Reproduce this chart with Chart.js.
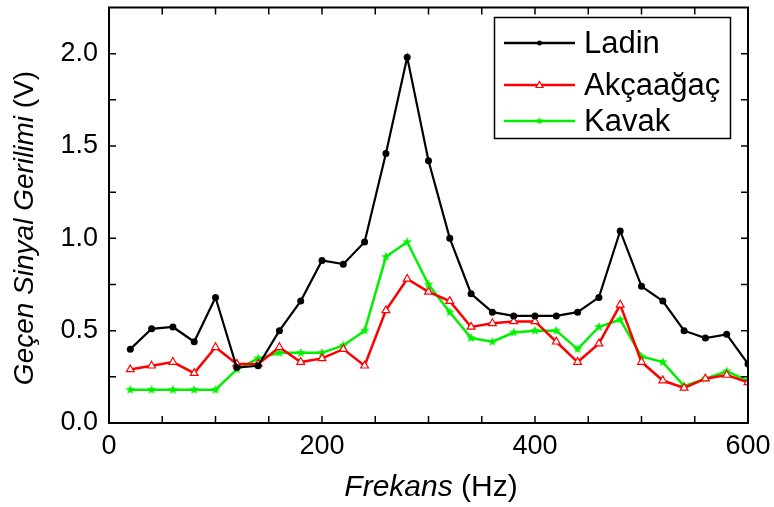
<!DOCTYPE html>
<html>
<head>
<meta charset="utf-8">
<script src="https://cdn.jsdelivr.net/npm/chart.js@4/dist/chart.umd.min.js"></script>
<style>
  html, body { margin: 0; padding: 0; background: #fff; }
</style>
</head>
<body>
<canvas id="chart" width="774" height="507"></canvas>
<script>
// frekans (Hz) ve gecen sinyal gerilimi (V) - okunan degerler
const frekans = [20, 40, 60, 80, 100, 120, 140, 160, 180, 200, 220, 240, 260, 280, 300,
                 320, 340, 360, 380, 400, 420, 440, 460, 480, 500, 520, 540, 560, 580, 600];
const ladin = [0.40, 0.51, 0.52, 0.44, 0.68, 0.30, 0.31, 0.50, 0.66, 0.88, 0.86, 0.98, 1.46, 1.98, 1.42,
               1.00, 0.70, 0.60, 0.58, 0.58, 0.58, 0.60, 0.68, 1.04, 0.74, 0.66, 0.50, 0.46, 0.48, 0.32];
const akcaagac = [0.29, 0.31, 0.33, 0.27, 0.41, 0.32, 0.32, 0.41, 0.33, 0.35, 0.40, 0.31, 0.61, 0.78, 0.71,
                  0.66, 0.52, 0.54, 0.55, 0.55, 0.44, 0.33, 0.43, 0.64, 0.33, 0.23, 0.19, 0.24, 0.26, 0.22];
const kavak = [0.18, 0.18, 0.18, 0.18, 0.18, 0.29, 0.35, 0.38, 0.38, 0.38, 0.42, 0.50, 0.90, 0.98, 0.75,
               0.60, 0.46, 0.44, 0.49, 0.50, 0.50, 0.40, 0.52, 0.56, 0.36, 0.33, 0.20, 0.24, 0.28, 0.23];
const seriesNames = ['Ladin', 'Akçaağaç', 'Kavak'];
const xLabels = [0, 200, 400, 600];
const yLabels = [0, 0.5, 1.0, 1.5, 2.0];

const FONT = 'Liberation Sans, Arial, sans-serif';
const GREEN = '#00f000';

// yesil dolu yildiz isareti
function starImg(size, color) {
  const c = document.createElement('canvas');
  c.width = c.height = size;
  const g = c.getContext('2d');
  g.fillStyle = color;
  g.beginPath();
  for (let i = 0; i < 10; i++) {
    const r = i % 2 ? size * 0.22 : size * 0.5;
    const a = -Math.PI / 2 + i * Math.PI / 5;
    g.lineTo(size / 2 + r * Math.cos(a), size / 2 + r * Math.sin(a));
  }
  g.closePath();
  g.fill();
  return c;
}
const star = starImg(10, GREEN);

const toXY = arr => frekans.map((f, i) => ({ x: f, y: arr[i] }));

const noPad = s => { s.paddingLeft = 0; s.paddingRight = 0; s.paddingTop = 0; s.paddingBottom = 0; };

// cerceve, iceri bakan tikler, eksen basliklari ve lejant
const decor = {
  id: 'decor',
  afterDraw(chart) {
    const { ctx, chartArea: a, scales } = chart;
    const xs = scales.x, ys = scales.y;
    ctx.save();
    ctx.strokeStyle = '#000';
    ctx.lineWidth = 2;
    ctx.strokeRect(a.left, a.top, a.right - a.left, a.bottom - a.top);

    ctx.lineWidth = 1.5;
    ctx.beginPath();
    for (let v = 50; v < 600; v += 50) {
      const px = xs.getPixelForValue(v);
      ctx.moveTo(px, a.bottom); ctx.lineTo(px, a.bottom - 7);
      ctx.moveTo(px, a.top); ctx.lineTo(px, a.top + 7);
    }
    for (let v = 0.25; v < 2.25; v += 0.25) {
      const py = ys.getPixelForValue(v);
      ctx.moveTo(a.left, py); ctx.lineTo(a.left + 7, py);
      ctx.moveTo(a.right, py); ctx.lineTo(a.right - 7, py);
    }
    ctx.stroke();

    // eksen basliklari (italik + normal)
    ctx.fillStyle = '#000';
    ctx.textBaseline = 'middle';
    ctx.textAlign = 'left';
    const mixed = (it, rest, size) => {
      ctx.font = 'italic ' + size + 'px ' + FONT;
      const w1 = ctx.measureText(it).width;
      ctx.font = size + 'px ' + FONT;
      const w2 = ctx.measureText(rest).width;
      const x0 = -(w1 + w2) / 2;
      ctx.font = 'italic ' + size + 'px ' + FONT;
      ctx.fillText(it, x0, 0);
      ctx.font = size + 'px ' + FONT;
      ctx.fillText(rest, x0 + w1, 0);
    };
    ctx.save();
    ctx.translate(431, 488);
    mixed('Frekans', ' (Hz)', 30);
    ctx.restore();
    ctx.save();
    ctx.translate(25, 228);
    ctx.rotate(-Math.PI / 2);
    mixed('Geçen Sinyal Gerilimi', ' (V)', 28);
    ctx.restore();

    // lejant
    ctx.lineWidth = 1.5;
    ctx.strokeRect(494.5, 17.5, 236, 121);
    const rows = [43, 85, 121];
    chart.data.datasets.forEach((ds, i) => {
      const y = rows[i];
      ctx.strokeStyle = ds.borderColor;
      ctx.lineWidth = 2.5;
      ctx.beginPath();
      ctx.moveTo(504, y); ctx.lineTo(575, y);
      ctx.stroke();
      const cx = 539.5;
      if (i === 0) {
        ctx.fillStyle = '#000';
        ctx.beginPath(); ctx.arc(cx, y, 2.5, 0, Math.PI * 2); ctx.fill();
      } else if (i === 1) {
        ctx.fillStyle = '#fff';
        ctx.lineWidth = 1.2;
        ctx.beginPath();
        ctx.moveTo(cx, y - 3.5); ctx.lineTo(cx + 3.5, y + 2.5); ctx.lineTo(cx - 3.5, y + 2.5);
        ctx.closePath(); ctx.fill(); ctx.stroke();
      } else {
        ctx.drawImage(star, cx - 4, y - 4, 8, 8);
      }
      ctx.fillStyle = '#000';
      ctx.font = '31px ' + FONT;
      ctx.textBaseline = 'middle';
      ctx.fillText(ds.label, 584, y + 1);
    });
    ctx.restore();
  }
};

new Chart(document.getElementById('chart'), {
  type: 'line',
  data: {
    datasets: [
      {
        label: seriesNames[0],
        data: toXY(ladin),
        borderColor: '#000000',
        backgroundColor: '#000000',
        borderWidth: 2.2,
        pointStyle: 'circle',
        pointRadius: 3.5,
        pointBorderWidth: 0,
        tension: 0
      },
      {
        label: seriesNames[1],
        data: toXY(akcaagac),
        borderColor: '#ff0000',
        backgroundColor: '#ffffff',
        pointBorderColor: '#ff0000',
        borderWidth: 2.5,
        pointStyle: 'triangle',
        pointRadius: 4.5,
        pointBorderWidth: 1.2,
        tension: 0
      },
      {
        label: seriesNames[2],
        data: toXY(kavak),
        borderColor: GREEN,
        backgroundColor: GREEN,
        borderWidth: 2.5,
        pointStyle: star,
        pointRadius: 5,
        tension: 0
      }
    ]
  },
  options: {
    responsive: false,
    devicePixelRatio: 1,
    animation: false,
    layout: { padding: { top: 4, right: 26, left: 0, bottom: 0 } },
    plugins: { legend: { display: false }, tooltip: { enabled: false } },
    scales: {
      x: {
        type: 'linear',
        min: 0,
        max: 600,
        grid: { display: false },
        border: { display: false },
        afterFit: s => { s.height = 84; noPad(s); },
        ticks: {
          stepSize: 200,
          padding: -1,
          color: '#000',
          font: { family: FONT, size: 27 },
          callback: v => xLabels.includes(v) ? String(v) : ''
        }
      },
      y: {
        min: 0,
        max: 2.25,
        grid: { display: false },
        border: { display: false },
        afterFit: s => { s.width = 109; noPad(s); },
        ticks: {
          stepSize: 0.5,
          padding: 3,
          color: '#000',
          font: { family: FONT, size: 27 },
          callback: v => yLabels.includes(v) ? v.toFixed(1) : ''
        }
      }
    }
  },
  plugins: [decor]
});
</script>
</body>
</html>
